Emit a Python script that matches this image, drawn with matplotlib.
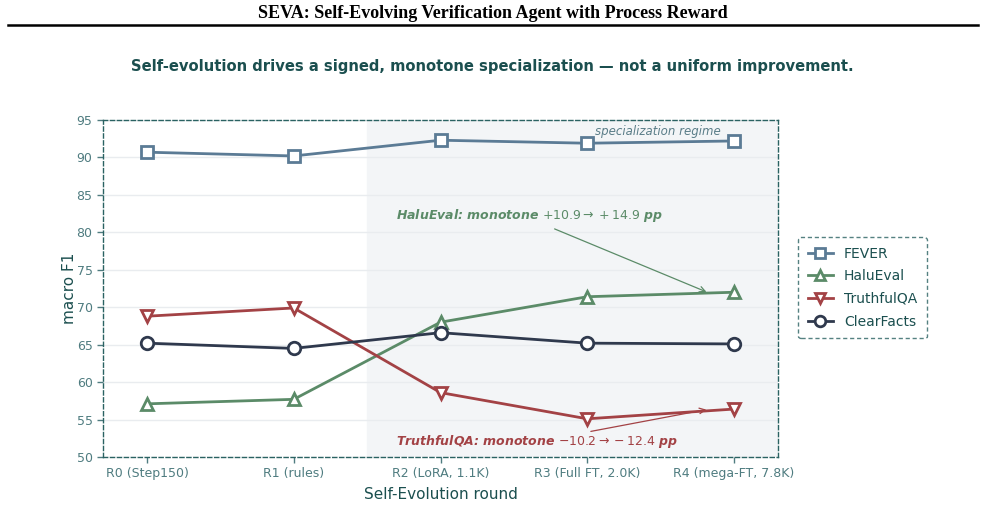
import matplotlib
matplotlib.use("Agg")
import matplotlib.pyplot as plt
from matplotlib.lines import Line2D

rounds = ["R0 (Step150)", "R1 (rules)", "R2 (LoRA, 1.1K)", "R3 (Full FT, 2.0K)", "R4 (mega-FT, 7.8K)"]
fever = [90.7, 90.2, 92.3, 91.9, 92.2]
halueval = [57.1, 57.7, 68.0, 71.4, 72.0]
truthfulqa = [68.8, 69.9, 58.6, 55.1, 56.4]
clearfacts = [65.2, 64.5, 66.6, 65.2, 65.1]
yticks = [50, 55, 60, 65, 70, 75, 80, 85, 90, 95]

C_FEVER = "#5b7b95"
C_HALU = "#5b8b68"
C_TQA = "#a34245"
C_CF = "#2f394d"
TEAL = "#1b4f4f"
TICK = "#4f7c80"

fig = plt.figure(figsize=(9.85, 5.32), dpi=100)
W, H = 985, 532
ax = fig.add_axes([103 / W, 1 - 457 / H, (778 - 103) / W, (457 - 120) / H])

x = list(range(len(rounds)))
ax.axvspan(1.5, 4.3, color="#f3f5f7", zorder=0)

series = [("FEVER", fever, C_FEVER, "s"), ("HaluEval", halueval, C_HALU, "^"),
          ("TruthfulQA", truthfulqa, C_TQA, "v"), ("ClearFacts", clearfacts, C_CF, "o")]
for name, vals, c, m in series:
    ax.plot(x, vals, color=c, lw=2, marker=m, markersize=9, markerfacecolor="white",
            markeredgecolor=c, markeredgewidth=2, label=name, zorder=3)

ax.set_xlim(-0.3, 4.3)
ax.set_ylim(50, 95)
ax.set_yticks(yticks)
ax.set_xticks(x)
ax.set_xticklabels(rounds)
ax.tick_params(colors=TICK, labelsize=9, length=4, width=1)
for lab in ax.get_xticklabels() + ax.get_yticklabels():
    lab.set_color(TICK)
ax.grid(axis="y", color="#e9ecef", lw=1, zorder=1)
ax.set_axisbelow(True)
for s in ax.spines.values():
    s.set_linestyle((0, (3, 2)))
    s.set_color("#2a6262")
    s.set_linewidth(1)

ax.set_ylabel("macro F1", color=TEAL, fontsize=11, labelpad=0)
ax.set_xlabel("Self-Evolution round", color=TEAL, fontsize=11, labelpad=5)

ax.text(3.05, 93.4, "specialization regime", style="italic", color="#5a7d88", fontsize=8.5, ha="left", va="center")

ax.text(1.70, 82.2, r"HaluEval: monotone $+10.9\rightarrow+14.9$ pp", color=C_HALU,
        fontsize=9, fontweight="bold", style="italic", ha="left", va="center")
ax.annotate("", xy=(3.83, 71.9), xytext=(2.76, 80.6),
            arrowprops=dict(arrowstyle="->", color=C_HALU, lw=0.9))
ax.text(1.70, 52.1, r"TruthfulQA: monotone $-10.2\rightarrow-12.4$ pp", color=C_TQA,
        fontsize=9, fontweight="bold", style="italic", ha="left", va="center")
ax.annotate("", xy=(3.83, 56.4), xytext=(3.006, 53.35),
            arrowprops=dict(arrowstyle="->", color=C_TQA, lw=0.9))

leg = fig.legend(loc="upper left", bbox_to_anchor=(798 / W, 1 - 237 / H), frameon=True,
                 fontsize=10, borderpad=0.7, labelspacing=0.62, handlelength=1.8,
                 borderaxespad=0, markerscale=0.85)
fr = leg.get_frame()
fr.set_linestyle((0, (3, 2)))
fr.set_edgecolor("#2a6262")
fr.set_linewidth(1)
fr.set_boxstyle("round,pad=0,rounding_size=0.2")
for t in leg.get_texts():
    t.set_color(TEAL)

fig.text(0.5, 1 - 66 / H, "Self-evolution drives a signed, monotone specialization \u2014 not a uniform improvement.",
         ha="center", va="center", color=TEAL, fontsize=10.6, fontweight="bold")
fig.text(0.5, 1 - 13 / H, "SEVA: Self-Evolving Verification Agent with Process Reward",
         ha="center", va="center", color="black", fontsize=13, fontweight="bold", family="Liberation Serif")
fig.add_artist(Line2D([8 / W, 978 / W], [1 - 25 / H, 1 - 25 / H], color="black", lw=1.8, transform=fig.transFigure))

fig.savefig("out.png", dpi=100)
